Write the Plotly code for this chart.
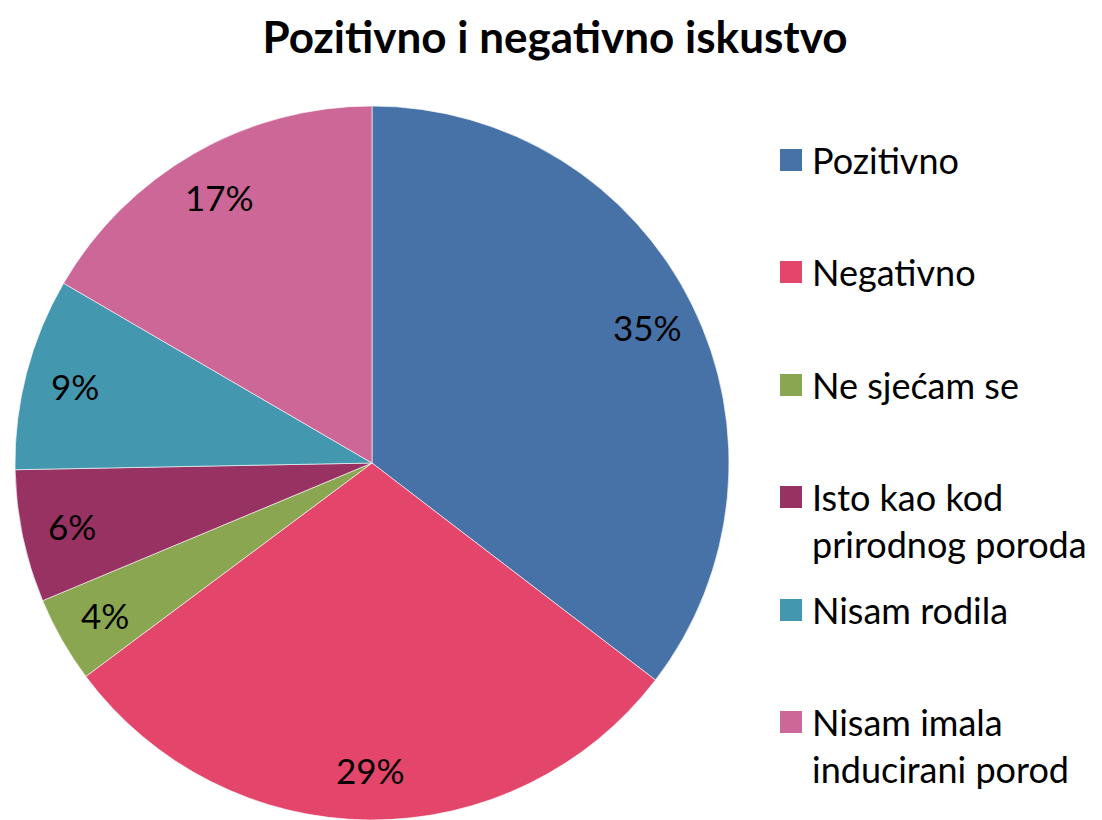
import math
import plotly.graph_objects as go

# data
labels = ["Pozitivno", "Negativno", "Ne sjećam se",
          "Isto kao kod prirodnog poroda", "Nisam rodila",
          "Nisam imala inducirani porod"]
legend_text = ["Pozitivno", "Negativno", "Ne sjećam se",
               "Isto kao kod<br>prirodnog poroda", "Nisam rodila",
               "Nisam imala<br>inducirani porod"]
values = [35.4, 29.4, 3.9, 6.0, 8.7, 16.6]
colors = ["#4672A7", "#E4456A", "#8BA650", "#983262", "#4398AF", "#CC6797"]

# page body has an 8px margin, so the figure is a bit smaller than the window
W, H = 1094, 812
FONT = "Lato"

pie_x = [2 / W, 726 / W]
pie_y = [0, 1 - 98 / H]

fig = go.Figure()
fig.add_trace(go.Pie(labels=labels,
                     values=values,
                     sort=False,
                     direction="clockwise",
                     rotation=0,
                     marker=dict(colors=colors,
                                 line=dict(color="rgba(255,255,255,0.6)", width=1)),
                     textinfo="none",
                     showlegend=False,
                     hoverinfo="label+percent",
                     domain=dict(x=pie_x, y=pie_y)))

# percent labels placed near the rim like the original (best fit)
cx = (pie_x[0] + pie_x[1]) / 2
cy = (pie_y[0] + pie_y[1]) / 2
radius = min((pie_x[1] - pie_x[0]) * W, (pie_y[1] - pie_y[0]) * H) / 2
total = sum(values)
acc = 0
for v in values:
    ang = math.radians((acc + v / 2) / total * 360)
    acc += v
    fig.add_annotation(text="{:.0f}%".format(v / total * 100),
                       xref="paper", yref="paper",
                       x=cx + 0.86 * radius * math.sin(ang) / W,
                       y=cy + 0.86 * radius * math.cos(ang) / H,
                       xanchor="center", yanchor="middle",
                       showarrow=False,
                       font=dict(family=FONT, size=35, color="black"))

# legend drawn by hand so it keeps the wide spacing of the original
first_line_y = [152, 264, 377, 489, 602, 714]
for txt, col, yc in zip(legend_text, colors, first_line_y):
    fig.add_shape(type="rect", xref="paper", yref="paper",
                  x0=772 / W, x1=794 / W,
                  y0=1 - (yc + 11) / H, y1=1 - (yc - 11) / H,
                  fillcolor=col, line=dict(width=0))
    fig.add_annotation(text=txt, xref="paper", yref="paper",
                       x=802 / W, y=1 - (yc - 24) / H,
                       xanchor="left", yanchor="top", align="left",
                       showarrow=False,
                       font=dict(family=FONT, size=36, color="black"))

fig.update_layout(width=W, height=H,
                  margin=dict(l=0, r=0, t=0, b=0),
                  paper_bgcolor="white",
                  title=dict(text="<b>Pozitivno i negativno iskustvo</b>",
                             x=547 / W, xanchor="center",
                             y=1 - 30 / H, yanchor="middle",
                             font=dict(family=FONT, size=44, color="black")))

fig.write_html("out.html")
